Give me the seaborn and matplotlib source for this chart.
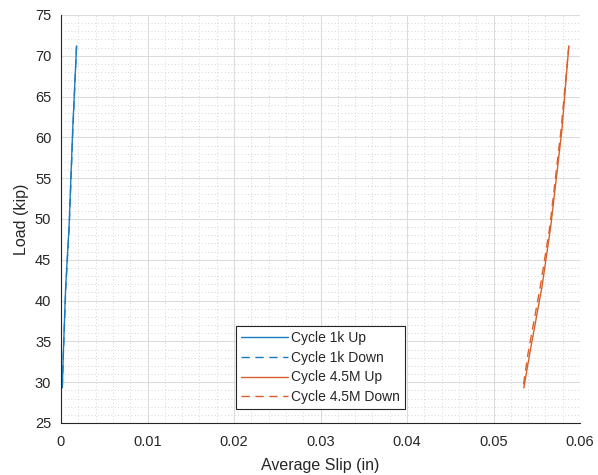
import numpy as np
import pandas as pd
import matplotlib
matplotlib.use("Agg")
import matplotlib.pyplot as plt
import seaborn as sns
from matplotlib.ticker import MultipleLocator

# Load (kip) versus average slip (in) for each cycle and loading direction
load_up = [29.3, 33.6, 41.7, 49.0, 60.9, 71.2]
slip_1k_up = [0.00015, 0.00027, 0.00054, 0.00093, 0.00135, 0.00180]

load_down = [71.2, 60.9, 49.0, 41.7, 33.6, 29.3]
slip_1k_down = [0.00180, 0.00137, 0.00095, 0.00056, 0.00028, 0.00015]

slip_45m_up = [0.0535, 0.0542, 0.0556, 0.0566, 0.0579, 0.0587]
slip_45m_down = [0.0587, 0.0578, 0.0565, 0.0554, 0.0540, 0.0534]

series_names = ["Cycle 1k Up", "Cycle 1k Down", "Cycle 4.5M Up", "Cycle 4.5M Down"]
x_tick_labels = ["0", "0.01", "0.02", "0.03", "0.04", "0.05", "0.06"]

frames = []
for name, slip, load in [
    (series_names[0], slip_1k_up, load_up),
    (series_names[1], slip_1k_down, load_down),
    (series_names[2], slip_45m_up, load_up),
    (series_names[3], slip_45m_down, load_down),
]:
    frames.append(pd.DataFrame({"slip": slip, "load": load, "series": name}))
df = pd.concat(frames, ignore_index=True)

sns.set_style("white")
plt.rcParams["font.family"] = ["Liberation Sans", "DejaVu Sans"]

fig = plt.figure(figsize=(5.98, 4.75), dpi=100)
ax = fig.add_axes([0.102, 0.1095, 0.868, 0.859])

blue = "#1a7cc0"
orange = "#d9602a"
palette = {series_names[0]: blue, series_names[1]: blue,
           series_names[2]: orange, series_names[3]: orange}
dashes = {series_names[0]: "", series_names[1]: (6, 4),
          series_names[2]: "", series_names[3]: (6, 4)}

sns.lineplot(data=df, x="slip", y="load", hue="series", style="series",
             palette=palette, dashes=dashes, sort=False, estimator=None,
             linewidth=1.0, ax=ax)

ax.set_xlim(0, 0.06)
ax.set_ylim(25, 75)
ax.set_xticks([i * 0.01 for i in range(len(x_tick_labels))])
ax.set_xticklabels(x_tick_labels)
ax.xaxis.set_minor_locator(MultipleLocator(0.002))
ax.yaxis.set_major_locator(MultipleLocator(5))
ax.yaxis.set_minor_locator(MultipleLocator(1))

ax.grid(True, which="major", color="#dcdcdc", linewidth=0.8, linestyle="-")
ax.grid(True, which="minor", color="#c8c8c8", linewidth=0.6, linestyle=(0, (1, 3)))
ax.set_axisbelow(True)

for side in ["top", "right"]:
    ax.spines[side].set_visible(False)
for side in ["left", "bottom"]:
    ax.spines[side].set_color("#262626")
    ax.spines[side].set_linewidth(0.8)

ax.tick_params(which="major", direction="in", length=5, width=0.8,
               colors="#262626", labelsize=10.5, labelcolor="#262626")
ax.tick_params(axis="x", which="major", pad=9)
ax.tick_params(axis="y", which="major", pad=7)
ax.tick_params(which="minor", length=0)

ax.set_xlabel("Average Slip (in)", fontsize=11.5, color="#262626", labelpad=6)
ax.set_ylabel("Load (kip)", fontsize=11.5, color="#262626", labelpad=4)

leg = ax.legend(loc="lower center", bbox_to_anchor=(0.5, 0.034), fontsize=10,
                frameon=True, fancybox=False, edgecolor="#262626",
                handlelength=3.4, handletextpad=0.25, borderpad=0.35,
                labelspacing=0.42, borderaxespad=0)
leg.get_frame().set_linewidth(0.8)
leg.get_frame().set_alpha(1)

fig.savefig("out.png", dpi=100, facecolor="white")
